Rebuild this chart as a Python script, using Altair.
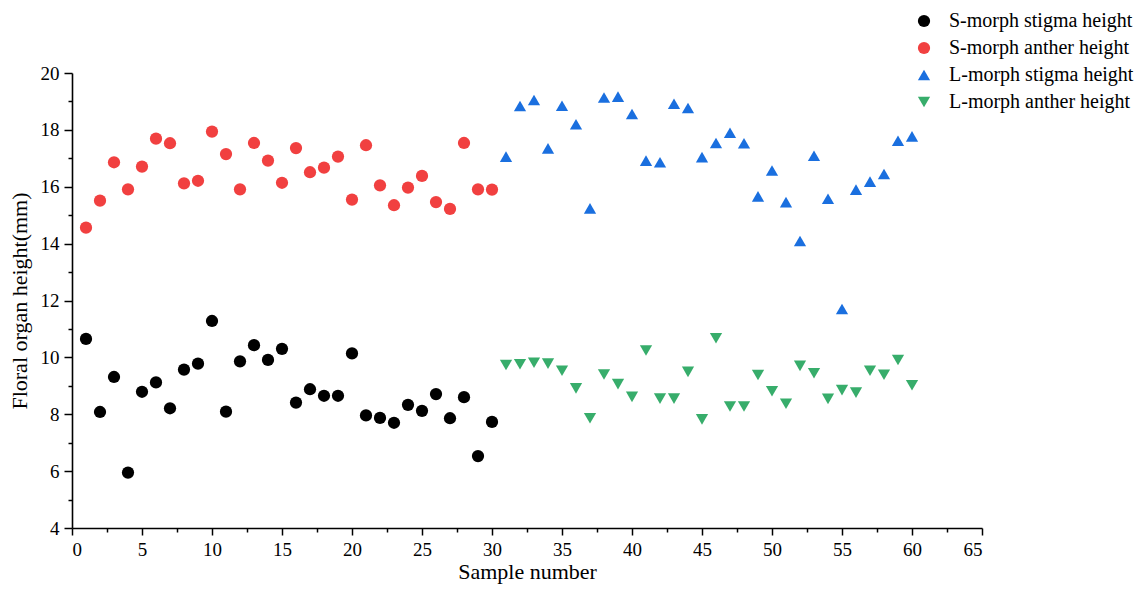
import altair as alt
import pandas as pd

series_names = ["S-morph stigma height", "S-morph anther height",
                "L-morph stigma height", "L-morph anther height"]

s_samples = list(range(1, 31))
l_samples = list(range(31, 61))

s_stigma = [10.65, 8.08, 9.31, 5.95, 8.79, 9.12, 8.21, 9.57, 9.78, 11.28,
            8.09, 9.86, 10.43, 9.91, 10.30, 8.41, 8.88, 8.65, 8.65, 10.14,
            7.96, 7.87, 7.70, 8.33, 8.12, 8.71, 7.86, 8.60, 6.53, 7.73]
s_anther = [14.56, 15.51, 16.86, 15.91, 16.71, 17.69, 17.53, 16.12, 16.21, 17.94,
            17.15, 15.91, 17.54, 16.92, 16.14, 17.36, 16.51, 16.67, 17.06, 15.55,
            17.46, 16.05, 15.35, 15.97, 16.38, 15.46, 15.22, 17.54, 15.91, 15.90]
l_stigma = [17.06, 18.84, 19.05, 17.35, 18.85, 18.20, 15.24, 19.14, 19.17, 18.56,
            16.92, 16.86, 18.92, 18.77, 17.04, 17.54, 17.90, 17.53, 15.66, 16.57,
            15.46, 14.09, 17.09, 15.58, 11.70, 15.90, 16.18, 16.45, 17.62, 17.77]
l_anther = [9.73, 9.76, 9.81, 9.78, 9.53, 8.91, 7.86, 9.40, 9.06, 8.61,
            10.24, 8.55, 8.55, 9.49, 7.82, 10.67, 8.27, 8.27, 9.38, 8.81,
            8.37, 9.70, 9.44, 8.54, 8.85, 8.76, 9.53, 9.39, 9.91, 9.02]

x_major = list(range(0, 66, 5))
x_minor = [v + 2.5 for v in range(0, 65, 5)]
y_major = list(range(4, 21, 2))
y_minor = list(range(5, 20, 2))

colors = ["#000000", "#F14040", "#1A6FDF", "#37AD6B"]
shapes = ["circle", "circle", "triangle-up", "triangle-down"]
sizes = [150, 150, 200, 200]

rows = []
for name, xs, ys in [(series_names[0], s_samples, s_stigma),
                     (series_names[1], s_samples, s_anther),
                     (series_names[2], l_samples, l_stigma),
                     (series_names[3], l_samples, l_anther)]:
    for xv, yv in zip(xs, ys):
        rows.append({"sample": xv, "height": yv, "series": name})
df = pd.DataFrame(rows)

FONT = "Liberation Serif"
xscale = alt.Scale(domain=[0, 65], nice=False, zero=False)
yscale = alt.Scale(domain=[4, 20], nice=False, zero=False)

legend = alt.Legend(orient="none", legendX=842, legendY=-62, padding=0,
                    labelFont=FONT, labelFontSize=20, labelColor="#000000",
                    symbolSize=130, symbolStrokeWidth=0, labelOffset=15,
                    rowPadding=7, labelLimit=400)

points = alt.Chart(df).mark_point(filled=True, opacity=1, strokeWidth=0).encode(
    x=alt.X("sample:Q", scale=xscale, title="Sample number",
            axis=alt.Axis(values=x_major, format="d", tickSize=7, labelPadding=5,
                          titlePadding=2, grid=False)),
    y=alt.Y("height:Q", scale=yscale, title="Floral organ height(mm)",
            axis=alt.Axis(values=y_major, format="d", tickSize=8, labelPadding=5,
                          titlePadding=9, grid=False)),
    color=alt.Color("series:N", scale=alt.Scale(domain=series_names, range=colors),
                    sort=series_names, title=None, legend=legend),
    shape=alt.Shape("series:N", scale=alt.Scale(domain=series_names, range=shapes),
                    sort=series_names, title=None, legend=legend),
    size=alt.Size("series:N", scale=alt.Scale(domain=series_names, range=sizes),
                  legend=None),
)

minor = alt.Chart(df).mark_point(opacity=0).encode(
    x=alt.X("sample:Q", scale=xscale, title=None,
            axis=alt.Axis(values=x_minor, orient="bottom", labels=False, domain=False,
                          tickSize=4, grid=False)),
    y=alt.Y("height:Q", scale=yscale, title=None,
            axis=alt.Axis(values=y_minor, orient="left", labels=False, domain=False,
                          tickSize=4, grid=False)),
)

chart = alt.layer(points, minor).resolve_axis(x="independent", y="independent").properties(
    width=910, height=455,
    autosize=alt.AutoSizeParams(type="none"),
    padding={"left": 64, "top": 65, "right": 1131 - 64 - 910, "bottom": 581 - 65 - 455},
).configure_view(stroke=None).configure_axis(
    domainColor="#000000", domainWidth=1.6, tickColor="#000000", tickWidth=1.5,
    labelFont=FONT, labelFontSize=19, labelColor="#000000",
    titleFont=FONT, titleFontSize=22, titleFontWeight="normal", titleColor="#000000",
)

chart.save("out.html", embed_options={"renderer": "svg", "actions": False})
